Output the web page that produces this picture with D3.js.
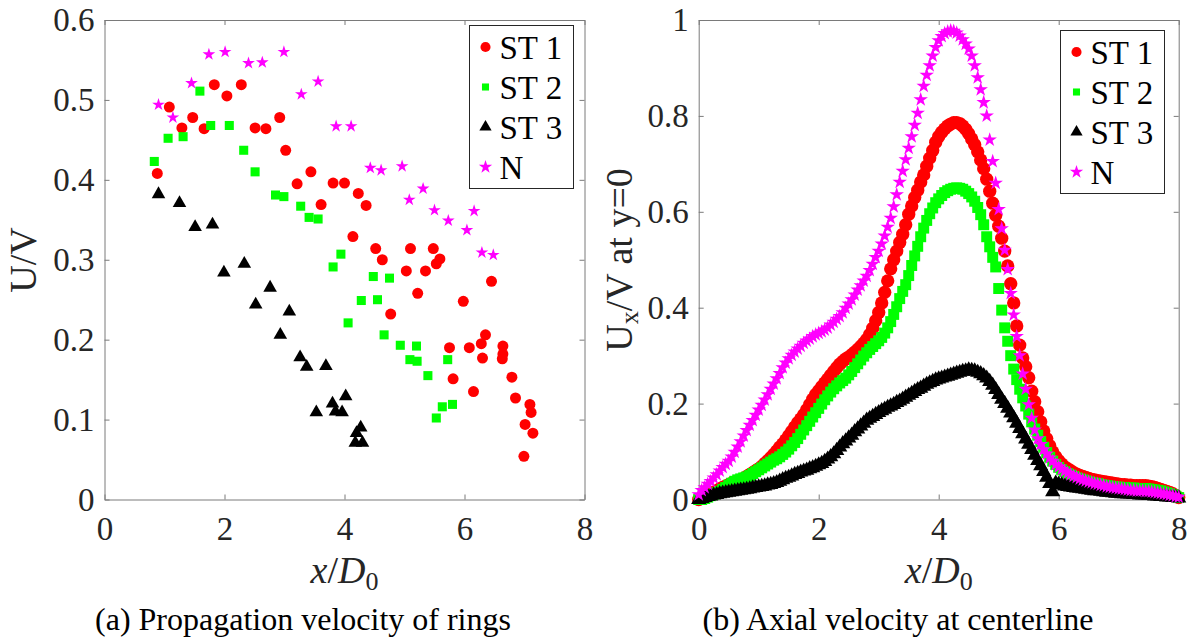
<!DOCTYPE html>
<html>
<head>
<meta charset="utf-8">
<script src="https://cdn.jsdelivr.net/npm/d3@7"></script>
<style>
  body { margin: 0; background: #fff; }
</style>
</head>
<body>
<div id="chart"></div>
<script>
const width = 1192,
  height = 643;

// ---- (a) propagation velocity of rings : U/V against x/D0
const ringSeries = ["ST 1", "ST 2", "ST 3", "N"];

const st1X = [0.88, 1.08, 1.29, 1.47, 1.66, 1.83, 2.04, 2.28, 2.51, 2.69, 2.92, 3.02, 3.21, 3.44, 3.61, 3.81, 4.00, 4.14, 4.23, 4.36,
  4.52, 4.63, 4.77, 5.03, 5.10, 5.22, 5.35, 5.48, 5.53, 5.59, 5.75, 5.81, 5.98, 6.08, 6.15, 6.28, 6.30, 6.35, 6.45, 6.63,
  6.64, 6.64, 6.79, 6.85, 6.99, 7.01, 7.09, 7.11, 7.14];
const st1Y = [0.408, 0.491, 0.465, 0.478, 0.464, 0.519, 0.505, 0.519, 0.465, 0.464, 0.478, 0.437, 0.395, 0.410, 0.369, 0.396, 0.396, 0.329, 0.383, 0.368,
  0.314, 0.300, 0.232, 0.286, 0.314, 0.258, 0.286, 0.314, 0.295, 0.301, 0.190, 0.151, 0.248, 0.190, 0.135, 0.195, 0.177, 0.206, 0.273, 0.176,
  0.192, 0.182, 0.153, 0.127, 0.054, 0.094, 0.119, 0.109, 0.083];

const st2X = [0.83, 1.06, 1.31, 1.59, 1.77, 2.08, 2.32, 2.51, 2.85, 2.99, 3.27, 3.41, 3.56, 3.81, 3.94, 4.06, 4.28, 4.48, 4.55, 4.66,
  4.75, 4.93, 5.09, 5.20, 5.21, 5.39, 5.53, 5.63, 5.72, 5.80];
const st2Y = [0.423, 0.452, 0.454, 0.511, 0.468, 0.468, 0.437, 0.410, 0.381, 0.379, 0.367, 0.353, 0.351, 0.291, 0.307, 0.221, 0.249, 0.279, 0.250, 0.206,
  0.277, 0.193, 0.175, 0.192, 0.173, 0.155, 0.102, 0.116, 0.175, 0.119];

const st3X = [0.90, 1.25, 1.51, 1.80, 1.99, 2.33, 2.52, 2.76, 2.93, 3.08, 3.26, 3.37, 3.53, 3.69, 3.80, 3.85, 3.96, 4.02, 4.18, 4.20,
  4.27, 4.30];
const st3Y = [0.382, 0.371, 0.341, 0.344, 0.284, 0.295, 0.244, 0.265, 0.206, 0.235, 0.178, 0.166, 0.109, 0.167, 0.120, 0.110, 0.109, 0.129, 0.071, 0.083,
  0.090, 0.071];

const nX = [0.90, 1.14, 1.45, 1.74, 2.01, 2.40, 2.63, 2.99, 3.28, 3.56, 3.86, 4.11, 4.43, 4.61, 4.96, 5.08, 5.31, 5.50, 5.73, 6.04,
  6.16, 6.29, 6.48];
const nY = [0.494, 0.478, 0.521, 0.557, 0.560, 0.546, 0.547, 0.560, 0.507, 0.523, 0.467, 0.467, 0.415, 0.412, 0.417, 0.375, 0.389, 0.362, 0.349, 0.337,
  0.361, 0.309, 0.306];

// ---- (b) axial velocity at centerline : Ux/V at y=0, sampled every 0.05 D0 from 0 to 8
const axialX = d3.range(161).map(i => i * 0.05);

const axSt1 = [
  0.000, 0.004, 0.007, 0.009, 0.012, 0.015, 0.018, 0.022, 0.025, 0.028,
  0.031, 0.034, 0.036, 0.038, 0.041, 0.044, 0.048, 0.052, 0.056, 0.060,
  0.064, 0.069, 0.075, 0.081, 0.087, 0.094, 0.101, 0.109, 0.116, 0.124,
  0.133, 0.142, 0.151, 0.160, 0.168, 0.177, 0.187, 0.198, 0.209, 0.219,
  0.227, 0.235, 0.243, 0.251, 0.259, 0.267, 0.275, 0.282, 0.288, 0.293,
  0.297, 0.302, 0.307, 0.313, 0.319, 0.326, 0.334, 0.344, 0.357, 0.373,
  0.390, 0.410, 0.432, 0.456, 0.481, 0.500, 0.518, 0.536, 0.553, 0.573,
  0.595, 0.612, 0.630, 0.645, 0.662, 0.677, 0.695, 0.712, 0.728, 0.745,
  0.757, 0.766, 0.773, 0.779, 0.783, 0.786, 0.786, 0.784, 0.779, 0.772,
  0.763, 0.752, 0.740, 0.725, 0.708, 0.690, 0.668, 0.643, 0.618, 0.593,
  0.570, 0.545, 0.518, 0.487, 0.450, 0.410, 0.362, 0.322, 0.295, 0.277,
  0.254, 0.226, 0.204, 0.183, 0.162, 0.143, 0.127, 0.112, 0.099, 0.089,
  0.081, 0.074, 0.068, 0.064, 0.060, 0.056, 0.053, 0.050, 0.048, 0.046,
  0.044, 0.042, 0.041, 0.039, 0.038, 0.037, 0.036, 0.035, 0.034, 0.033,
  0.032, 0.031, 0.031, 0.030, 0.030, 0.029, 0.029, 0.029, 0.029, 0.029,
  0.028, 0.027, 0.025, 0.023, 0.021, 0.019, 0.017, 0.015, 0.012, 0.008,
  0.004];

const axSt2 = [
  0.000, 0.000, 0.002, 0.005, 0.008, 0.011, 0.014, 0.017, 0.021, 0.025,
  0.030, 0.034, 0.038, 0.041, 0.043, 0.045, 0.047, 0.050, 0.054, 0.058,
  0.062, 0.066, 0.070, 0.074, 0.078, 0.082, 0.085, 0.089, 0.094, 0.099,
  0.105, 0.112, 0.119, 0.127, 0.136, 0.145, 0.154, 0.163, 0.172, 0.181,
  0.190, 0.199, 0.208, 0.216, 0.224, 0.231, 0.237, 0.243, 0.248, 0.253,
  0.260, 0.267, 0.275, 0.283, 0.291, 0.299, 0.306, 0.313, 0.319, 0.325,
  0.331, 0.338, 0.347, 0.358, 0.371, 0.386, 0.402, 0.419, 0.434, 0.448,
  0.467, 0.488, 0.508, 0.528, 0.548, 0.566, 0.582, 0.596, 0.608, 0.619,
  0.627, 0.634, 0.640, 0.644, 0.647, 0.649, 0.650, 0.649, 0.647, 0.643,
  0.638, 0.631, 0.622, 0.609, 0.594, 0.573, 0.548, 0.527, 0.505, 0.485,
  0.440, 0.395, 0.358, 0.330, 0.300, 0.272, 0.250, 0.230, 0.212, 0.195,
  0.178, 0.162, 0.147, 0.134, 0.121, 0.109, 0.098, 0.088, 0.080, 0.073,
  0.067, 0.062, 0.058, 0.054, 0.051, 0.048, 0.045, 0.043, 0.041, 0.039,
  0.037, 0.035, 0.034, 0.033, 0.031, 0.030, 0.029, 0.028, 0.027, 0.026,
  0.026, 0.025, 0.025, 0.024, 0.024, 0.024, 0.023, 0.023, 0.023, 0.023,
  0.022, 0.021, 0.020, 0.019, 0.018, 0.016, 0.014, 0.012, 0.010, 0.007,
  0.004];

const axSt3 = [
  0.000, 0.002, 0.004, 0.006, 0.007, 0.009, 0.010, 0.012, 0.013, 0.014,
  0.015, 0.016, 0.017, 0.018, 0.019, 0.020, 0.021, 0.022, 0.024, 0.025,
  0.026, 0.027, 0.028, 0.030, 0.031, 0.033, 0.035, 0.038, 0.041, 0.044,
  0.046, 0.049, 0.052, 0.054, 0.057, 0.059, 0.061, 0.064, 0.066, 0.069,
  0.072, 0.075, 0.079, 0.084, 0.089, 0.095, 0.102, 0.109, 0.116, 0.122,
  0.128, 0.134, 0.141, 0.147, 0.153, 0.159, 0.165, 0.169, 0.173, 0.177,
  0.181, 0.185, 0.188, 0.192, 0.195, 0.198, 0.202, 0.205, 0.209, 0.213,
  0.217, 0.221, 0.225, 0.229, 0.232, 0.236, 0.240, 0.243, 0.246, 0.249,
  0.251, 0.253, 0.255, 0.257, 0.259, 0.261, 0.263, 0.265, 0.267, 0.268,
  0.270, 0.269, 0.268, 0.265, 0.262, 0.258, 0.253, 0.246, 0.238, 0.229,
  0.219, 0.209, 0.200, 0.190, 0.180, 0.170, 0.159, 0.148, 0.137, 0.126,
  0.115, 0.104, 0.092, 0.081, 0.070, 0.058, 0.046, 0.033, 0.016, 0.034,
  0.032, 0.030, 0.028, 0.027, 0.026, 0.025, 0.024, 0.023, 0.022, 0.021,
  0.020, 0.019, 0.018, 0.018, 0.017, 0.016, 0.015, 0.015, 0.014, 0.013,
  0.013, 0.012, 0.012, 0.011, 0.011, 0.010, 0.010, 0.009, 0.009, 0.009,
  0.008, 0.008, 0.007, 0.007, 0.006, 0.006, 0.005, 0.005, 0.004, 0.004,
  0.003];

const axN = [
  0.010, 0.019, 0.025, 0.032, 0.038, 0.045, 0.052, 0.060, 0.067, 0.074,
  0.080, 0.089, 0.099, 0.110, 0.121, 0.133, 0.144, 0.155, 0.165, 0.176,
  0.187, 0.197, 0.208, 0.219, 0.230, 0.241, 0.252, 0.263, 0.275, 0.285,
  0.294, 0.301, 0.308, 0.314, 0.320, 0.326, 0.331, 0.335, 0.340, 0.344,
  0.347, 0.350, 0.354, 0.358, 0.364, 0.370, 0.376, 0.382, 0.390, 0.399,
  0.408, 0.417, 0.427, 0.437, 0.446, 0.456, 0.466, 0.478, 0.491, 0.505,
  0.518, 0.533, 0.550, 0.568, 0.587, 0.611, 0.636, 0.662, 0.685, 0.709,
  0.733, 0.757, 0.781, 0.806, 0.834, 0.862, 0.885, 0.905, 0.925, 0.943,
  0.957, 0.966, 0.972, 0.976, 0.978, 0.977, 0.973, 0.967, 0.959, 0.950,
  0.940, 0.925, 0.905, 0.880, 0.855, 0.828, 0.800, 0.750, 0.705, 0.660,
  0.605, 0.565, 0.520, 0.480, 0.430, 0.385, 0.340, 0.300, 0.262, 0.230,
  0.198, 0.170, 0.145, 0.127, 0.115, 0.104, 0.095, 0.087, 0.080, 0.073,
  0.068, 0.063, 0.059, 0.055, 0.052, 0.049, 0.046, 0.043, 0.041, 0.039,
  0.037, 0.035, 0.033, 0.032, 0.030, 0.029, 0.027, 0.026, 0.025, 0.024,
  0.023, 0.022, 0.021, 0.020, 0.019, 0.019, 0.018, 0.018, 0.018, 0.017,
  0.017, 0.016, 0.015, 0.014, 0.013, 0.012, 0.011, 0.009, 0.008, 0.006,
  0.005];

const xTicks = [0, 2, 4, 6, 8];
const ringYTicks = [0, 0.1, 0.2, 0.3, 0.4, 0.5, 0.6];
const axialYTicks = [0, 0.2, 0.4, 0.6, 0.8, 1];

const colors = ["#ff0000", "#00ff00", "#000000", "#ff00ff"];
const shapes = [d3.symbolCircle, d3.symbolSquare, d3.symbolTriangle, d3.symbolStar];

const serif = "'Liberation Serif'";

let svg = d3.select("#chart")
  .append("svg")
  .attr("width", width)
  .attr("height", height)
  .attr("viewBox", [0, 0, width, height]);

const axisColor = "#7a7a7a",
  textColor = "#262626";

function label(sel, size) {
  return sel.style("font-family", serif).style("font-size", size + "px");
}

function drawPanel(opts) {
  const x = d3.scaleLinear().domain([0, 8]).range([opts.left, opts.left + 480]);
  const y = d3.scaleLinear().domain(opts.yDomain).range([499.5, 20]);
  const g = svg.append("g");
  const fmt = d => String(+d.toFixed(1));

  // box with inward ticks on all four sides
  g.append("g").attr("transform", `translate(0,${y.range()[0]})`)
    .call(d3.axisBottom(x).tickValues(xTicks).tickSizeInner(-5).tickSizeOuter(0).tickPadding(17).tickFormat(fmt));
  g.append("g").attr("transform", `translate(0,${y.range()[1]})`)
    .call(d3.axisTop(x).tickValues(xTicks).tickSizeInner(-5).tickSizeOuter(0).tickFormat(""));
  g.append("g").attr("transform", `translate(${x.range()[0]},0)`)
    .call(d3.axisLeft(y).tickValues(opts.yTicks).tickSizeInner(-5).tickSizeOuter(0).tickPadding(10).tickFormat(fmt));
  g.append("g").attr("transform", `translate(${x.range()[1]},0)`)
    .call(d3.axisRight(y).tickValues(opts.yTicks).tickSizeInner(-5).tickSizeOuter(0).tickFormat(""));

  g.selectAll("g").attr("font-family", null).attr("font-size", null);
  g.selectAll(".domain, .tick line").attr("stroke", axisColor).attr("stroke-width", 1);
  label(g.selectAll(".tick text").attr("fill", textColor), 33);

  // markers, in plotting order
  opts.series.forEach((s, i) => {
    g.append("g")
      .selectAll("path")
      .data(s.xs.map((v, j) => [v, s.ys[j]]))
      .join("path")
      .attr("d", d3.symbol().type(shapes[i]).size(opts.sizes[i]))
      .attr("fill", colors[i])
      .attr("transform", d => `translate(${x(d[0])},${y(d[1])})`);
  });

  // legend
  const lg = g.append("g").attr("transform", `translate(${opts.legend[0]},${opts.legend[1]})`);
  lg.append("rect")
    .attr("width", 104).attr("height", 163)
    .attr("fill", "#fff").attr("stroke", textColor).attr("stroke-width", 1);
  ringSeries.forEach((name, i) => {
    const row = lg.append("g").attr("transform", `translate(0,${21.5 + i * 40})`);
    row.append("path")
      .attr("d", d3.symbol().type(shapes[i]).size(opts.legendSizes[i]))
      .attr("fill", colors[i])
      .attr("transform", "translate(16,0)");
    label(row.append("text"), 33)
      .attr("x", 30).attr("dy", "0.35em")
      .attr("fill", "#000")
      .text(name);
  });

  // x label: x/D0
  const xl = label(g.append("text"), 38)
    .attr("x", (x.range()[0] + x.range()[1]) / 2)
    .attr("y", 583)
    .attr("text-anchor", "middle")
    .attr("fill", textColor);
  xl.append("tspan").style("font-style", "italic").text("x");
  xl.append("tspan").text("/");
  xl.append("tspan").style("font-style", "italic").text("D");
  xl.append("tspan").attr("dy", 7).style("font-size", "26px").text("0");

  // caption
  label(g.append("text"), 32)
    .attr("x", opts.caption[0]).attr("y", 630)
    .attr("text-anchor", "middle")
    .attr("fill", "#000")
    .text(opts.caption[1]);

  return g;
}

const left = drawPanel({
  left: 104.5,
  yDomain: [0, 0.6],
  yTicks: ringYTicks,
  series: [
    { xs: st1X, ys: st1Y },
    { xs: st2X, ys: st2Y },
    { xs: st3X, ys: st3Y },
    { xs: nX, ys: nY }
  ],
  sizes: [95, 82, 80, 50],
  legendSizes: [80, 50, 65, 55],
  legend: [469.5, 25.5],
  caption: [303, "(a) Propagation velocity of rings"]
});

label(left.append("text"), 38)
  .attr("transform", "translate(36,260) rotate(-90)")
  .attr("text-anchor", "middle")
  .attr("fill", textColor)
  .text("U/V");

const right = drawPanel({
  left: 698.7,
  yDomain: [0, 1],
  yTicks: axialYTicks,
  series: [
    { xs: axialX, ys: axSt1 },
    { xs: axialX, ys: axSt2 },
    { xs: axialX, ys: axSt3 },
    { xs: axialX, ys: axN }
  ],
  sizes: [140, 120, 100, 65],
  legendSizes: [80, 50, 65, 55],
  legend: [1060.5, 30.5],
  caption: [898, "(b) Axial velocity at centerline"]
});

const yl = label(right.append("text"), 38)
  .attr("transform", "translate(632,260) rotate(-90)")
  .attr("text-anchor", "middle")
  .attr("fill", textColor);
yl.append("tspan").text("U");
yl.append("tspan").attr("dy", 6).style("font-size", "26px").text("x");
yl.append("tspan").attr("dy", -6).text("/V at y=0");
</script>
</body>
</html>
